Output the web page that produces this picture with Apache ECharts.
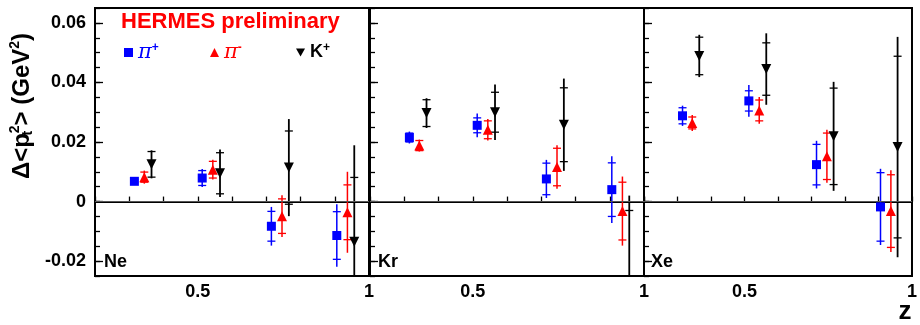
<!DOCTYPE html>
<html>
<head>
<meta charset="utf-8">
<script src="https://cdn.jsdelivr.net/npm/echarts@6/dist/echarts.min.js"></script>
<style>html,body{margin:0;padding:0;background:#fff;}#c{width:920px;height:325px;}</style>
</head>
<body>
<div id="c"></div>
<script>
// ---- data ----
const panels = ['Ne', 'Kr', 'Xe'];
const zPip = [0.315, 0.513, 0.715, 0.906];
const zPim = [0.344, 0.544, 0.746, 0.937];
const zKp  = [0.365, 0.565, 0.766, 0.957];

// Ne
const nePipVal = [0.0068, 0.0079, -0.0083, -0.0114];
const nePipStat = [0.0005, 0.0025, 0.0050, 0.0080];
const nePipTot = [0.0010, 0.0030, 0.0065, 0.0105];
const nePimVal = [0.0082, 0.0107, -0.0049, -0.0036];
const nePimStat = [0.0017, 0.0028, 0.0058, 0.0092];
const nePimTot = [0.0022, 0.0033, 0.0070, 0.0136];
const neKpVal = [0.0125, 0.0095, 0.0114, -0.0135];
const neKpStat = [0.0043, 0.0069, 0.0123, 0.0216];
const neKpTot = [0.0047, 0.0080, 0.0163, 0.0324];
// Kr
const krPipVal = [0.0215, 0.0256, 0.0076, 0.0040];
const krPipStat = [0.0015, 0.0025, 0.0053, 0.0090];
const krPipTot = [0.0020, 0.0040, 0.0064, 0.0112];
const krPimVal = [0.0188, 0.0241, 0.0116, -0.0032];
const krPimStat = [0.0017, 0.0030, 0.0063, 0.0097];
const krPimTot = [0.0020, 0.0036, 0.0073, 0.0116];
const krKpVal = [0.0297, 0.0300, 0.0258, -0.0300];
const krKpStat = [0.0045, 0.0067, 0.0124, 0.0270];
const krKpTot = [0.0050, 0.0093, 0.0155, 0.0320];
// Xe
const xePipVal = [0.0288, 0.0338, 0.0124, -0.0018];
const xePipStat = [0.0027, 0.0034, 0.0068, 0.0115];
const xePipTot = [0.0034, 0.0053, 0.0080, 0.0128];
const xePimVal = [0.0264, 0.0306, 0.0152, -0.0032];
const xePimStat = [0.0020, 0.0035, 0.0078, 0.0122];
const xePimTot = [0.0027, 0.0045, 0.0089, 0.0137];
const xeKpVal = [0.0489, 0.0445, 0.0219, 0.0183];
const xeKpStat = [0.0063, 0.0088, 0.0162, 0.0305];
const xeKpTot = [0.0071, 0.0120, 0.0183, 0.0370];

const yLabelValues = [-0.02, 0, 0.02, 0.04, 0.06];
const xLabelValues = [0.5, 1];

// ---- build ----
const FONT = 'Liberation Sans, Arial, sans-serif';
const species = [
  {name: 'π+', color: '#0000ff', z: zPip, symbol: 'rect', size: 9, lw: 1.5,
   data: [[nePipVal, nePipStat, nePipTot], [krPipVal, krPipStat, krPipTot], [xePipVal, xePipStat, xePipTot]]},
  {name: 'π-', color: '#ff0000', z: zPim, symbol: 'triangle', size: [10, 10], lw: 1.5,
   data: [[nePimVal, nePimStat, nePimTot], [krPimVal, krPimStat, krPimTot], [xePimVal, xePimStat, xePimTot]]},
  {name: 'K+', color: '#000000', z: zKp, symbol: 'path://M0,0L10,0L5,9Z', size: [10, 10], lw: 1.8,
   data: [[neKpVal, neKpStat, neKpTot], [krKpVal, krKpStat, krKpTot], [xeKpVal, xeKpStat, xeKpTot]]}
];

const grids = [], xAxes = [], yAxes = [], series = [];
const lefts = [95, 370, 644];
panels.forEach((p, gi) => {
  grids.push({left: lefts[gi], top: 8, width: 274, height: 268, show: true,
    borderColor: '#000', borderWidth: 2, backgroundColor: 'transparent'});
  xAxes.push({type: 'value', gridIndex: gi, position: 'bottom', min: 0.2, max: 1, interval: 0.1,
    axisLine: {show: true, lineStyle: {color: '#000', width: 2}},
    axisTick: {show: true, inside: true, length: 5, lineStyle: {color: '#000', width: 1.3}},
    axisLabel: {show: true, margin: 7, color: '#000', fontFamily: FONT, fontWeight: 'bold', fontSize: 18,
      showMaxLabel: true, showMinLabel: true,
      formatter: v => { for (const l of xLabelValues) if (Math.abs(v - l) < 1e-6) return String(l); return ''; }},
    splitLine: {show: false}});
  // minor ticks axis
  yAxes.push({type: 'value', gridIndex: gi, position: 'left', offset: 0, min: -0.025, max: 0.065, interval: 0.005,
    axisLine: {show: true, lineStyle: {color: '#000', width: 2}},
    axisTick: {show: true, inside: true, length: 5, lineStyle: {color: '#000', width: 1.3}},
    axisLabel: {show: false}, splitLine: {show: false}});
  // major ticks + labels
  yAxes.push({type: 'value', gridIndex: gi, position: 'left', offset: 0, min: -0.025, max: 0.065,
    axisLine: {show: false},
    axisTick: {show: true, inside: true, length: 8, customValues: yLabelValues, lineStyle: {color: '#000', width: 1.3}},
    axisLabel: {show: gi === 0, customValues: yLabelValues, margin: 9, color: '#000', fontFamily: FONT,
      fontWeight: 'bold', fontSize: 18, formatter: v => (Math.abs(v) < 1e-9 ? '0' : String(+v.toFixed(2)))},
    splitLine: {show: false}});

  species.forEach((s, si) => {
    const [vals, stats, tots] = s.data[gi];
    const d = s.z.map((z, i) => [z, vals[i], stats[i], tots[i]]);
    const color = s.color, lw = s.lw;
    const err = {
      type: 'custom', xAxisIndex: gi, yAxisIndex: gi * 2, clip: true, z: 2, silent: true,
      data: d,
      renderItem: (params, api) => {
        const x = api.value(0), y = api.value(1), st = api.value(2), tt = api.value(3);
        const a = api.coord([x, y + tt]), b = api.coord([x, y - tt]);
        const c = api.coord([x, y + st]), e = api.coord([x, y - st]);
        const hw = 4;
        const style = {stroke: color, lineWidth: lw};
        return {type: 'group', children: [
          {type: 'line', shape: {x1: a[0], y1: a[1], x2: b[0], y2: b[1]}, style},
          {type: 'line', shape: {x1: c[0] - hw, y1: c[1], x2: c[0] + hw, y2: c[1]}, style: {stroke: color, lineWidth: 1.3}},
          {type: 'line', shape: {x1: e[0] - hw, y1: e[1], x2: e[0] + hw, y2: e[1]}, style: {stroke: color, lineWidth: 1.3}}
        ]};
      }
    };
    if (si === 0) {
      err.markLine = {silent: true, symbol: 'none', label: {show: false},
        lineStyle: {color: '#555', width: 1, type: 'solid'}, data: [{yAxis: 0}], animation: false};
    }
    series.push(err);
    series.push({type: 'scatter', name: s.name, xAxisIndex: gi, yAxisIndex: gi * 2, clip: true, z: 3,
      symbol: s.symbol, symbolSize: s.size, itemStyle: {color: s.color, opacity: 1},
      data: d.map(r => [r[0], r[1]])});
  });
});

const legendPos = [124, 210, 296];
const legends = species.map((s, i) => ({
  data: [s.name], left: legendPos[i], top: 42, padding: 0, itemWidth: 9, itemHeight: 9, itemGap: 4,
  selectedMode: false,
  formatter: n => n[0] === 'π' ? '{p|π}{s|' + n.slice(1) + '}' : '{k|K}{s|' + n.slice(1) + '}',
  textStyle: {color: s.color, rich: {
    p: {fontFamily: 'DejaVu Serif, serif', fontStyle: 'italic', fontSize: 21, color: s.color, lineHeight: 22},
    k: {fontFamily: FONT, fontWeight: 'bold', fontSize: 18, color: s.color, lineHeight: 22},
    s: {fontFamily: FONT, fontWeight: 'bold', fontSize: 12, color: s.color, padding: [0, 0, 9, 0], lineHeight: 12}
  }}
}));

const option = {
  animation: false,
  backgroundColor: '#fff',
  grid: grids, xAxis: xAxes, yAxis: yAxes, series: series, legend: legends,
  graphic: [
    {type: 'text', left: 121, top: 11, style: {text: 'HERMES preliminary', fill: '#ff0000',
      font: 'bold 22px ' + FONT}},
    {type: 'text', x: 104, y: 262, style: {text: 'Ne', fill: '#000', font: 'bold 18px ' + FONT, textVerticalAlign: 'middle'}},
    {type: 'text', x: 378, y: 262, style: {text: 'Kr', fill: '#000', font: 'bold 18px ' + FONT, textVerticalAlign: 'middle'}},
    {type: 'text', x: 651, y: 262, style: {text: 'Xe', fill: '#000', font: 'bold 18px ' + FONT, textVerticalAlign: 'middle'}},
    {type: 'text', x: 905, y: 312, style: {text: 'z', fill: '#000', font: 'bold 26px ' + FONT, textAlign: 'center', textVerticalAlign: 'middle'}},
    {type: 'text', x: 22, y: 106, rotation: Math.PI / 2,
      style: {text: '{b|Δ<p}{sub|t}{sup|2}{b|> (GeV}{sup2|2}{b|)}', textAlign: 'center', textVerticalAlign: 'middle',
        fill: '#000',
        rich: {
          b: {fontFamily: FONT, fontWeight: 'bold', fontSize: 24, lineHeight: 28},
          sub: {fontFamily: FONT, fontWeight: 'bold', fontSize: 14, padding: [12, 0, 0, 0], lineHeight: 14, width: 0, align: 'left'},
          sup: {fontFamily: FONT, fontWeight: 'bold', fontSize: 14, padding: [0, 0, 14, 0], lineHeight: 14},
          sup2: {fontFamily: FONT, fontWeight: 'bold', fontSize: 14, padding: [0, 0, 14, 0], lineHeight: 14}
        }}}
  ]
};
const chart = echarts.init(document.getElementById('c'), null, {renderer: 'canvas'});
chart.setOption(option);
</script>
</body>
</html>
